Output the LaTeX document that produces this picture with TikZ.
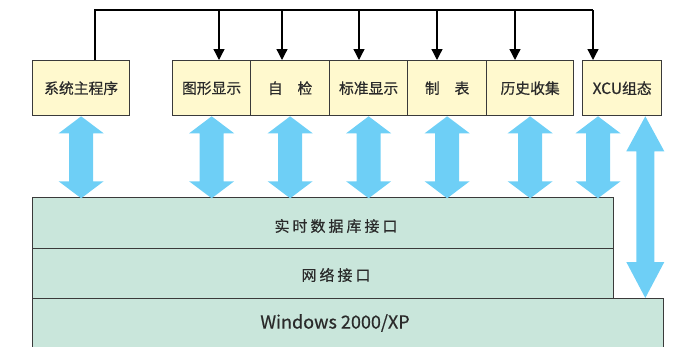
\documentclass[tikz,border=0pt]{standalone}
\usepackage{fontspec}
\setmainfont{Noto Sans CJK SC}[FakeBold=0.5]
\usetikzlibrary{arrows.meta,calc}
\definecolor{boxyellow}{HTML}{FFF9CE}
\definecolor{layergreen}{HTML}{C9E6DB}
\definecolor{arrowblue}{HTML}{6ECFF6}
\definecolor{edgegray}{HTML}{3A3A3A}
\definecolor{textgray}{HTML}{2A2A2A}
\begin{document}
\begin{tikzpicture}[x=1pt,y=-1pt,
  modbox/.style={draw=edgegray, line width=1.3pt, fill=boxyellow, minimum height=55pt,
    inner sep=0pt, text=textgray, font=\fontsize{14.8}{15}\selectfont, anchor=north west},
  layerbox/.style={draw=edgegray, line width=1.3pt, fill=layergreen, inner sep=0pt, anchor=north west},
  layertext/.style={text=textgray, inner sep=0pt, font=\fontsize{15}{16}\selectfont\addfontfeature{LetterSpace=20}},
  busline/.style={draw=black, line width=1.3pt},
  busarrow/.style={busline, -{Triangle[width=11pt,length=11pt]}},
  dblarrow/.pic={\fill[arrowblue] (0,0) -- (22.5,17) -- (12,17) -- (12,65) -- (22.5,65) -- (0,82)
      -- (-22.5,65) -- (-12,65) -- (-12,17) -- (-22.5,17) -- cycle;}
]
\useasboundingbox (0,0) rectangle (674,346);
\clip (0,0) rectangle (674,346);

% layers
\node[layerbox, minimum width=631pt, minimum height=62pt] (win) at (32,298) {};
\node[layerbox, minimum width=581pt, minimum height=51pt] (rtdb) at (32,197) {};
\node[layerbox, minimum width=581pt, minimum height=50pt] (net) at (32,248) {};
\node[layertext] (trtdb) at (336,226) {实时数据库接口};
\node[layertext] (tnet) at (336,275) {网络接口};
\node[text=textgray, inner sep=0pt, font=\fontsize{18}{19}\selectfont] (twin) at (335,323) {Windows 2000/XP};

% modules
\node[modbox, minimum width=97pt] (sys) at (32,60) {系统主程序};
\node[modbox, minimum width=78pt] (gfx) at (172,60) {图形显示};
\node[modbox, minimum width=79pt] (chk) at (250,60) {自\hspace{1em}检};
\node[modbox, minimum width=78pt] (std) at (329,60) {标准显示};
\node[modbox, minimum width=79pt] (tab) at (407,60) {制\hspace{1em}表};
\node[modbox, minimum width=87pt] (his) at (486,60) {历史收集};
\node[modbox, minimum width=79pt] (xcu) at (582,60) {{\fontsize{15.5}{16}\selectfont XCU}组态};

% top bus
\coordinate (t0) at (95,10);
\coordinate (t1) at (219,10);
\coordinate (t2) at (282,10);
\coordinate (t3) at (359,10);
\coordinate (t4) at (437,10);
\coordinate (t5) at (515,10);
\coordinate (t6) at (593,10);
\draw[busline] (t0 |- sys.north) -- (t0) -- (t6);
\draw[busarrow] (t1) -- (t1 |- gfx.north);
\draw[busarrow] (t2) -- (t2 |- chk.north);
\draw[busarrow] (t3) -- (t3 |- std.north);
\draw[busarrow] (t4) -- (t4 |- tab.north);
\draw[busarrow] (t5) -- (t5 |- his.north);
\draw[busarrow] (t6) -- (t6 |- xcu.north);

% blue double arrows
\pic at (sys.south) {dblarrow};
\pic at (gfx.south) {dblarrow};
\pic at (chk.south) {dblarrow};
\pic at (std.south) {dblarrow};
\pic at (tab.south) {dblarrow};
\pic at (his.south) {dblarrow};
\pic at ($(xcu.south west)+(16,0)$) {dblarrow};

% long arrow from XCU to Windows
\coordinate (ra) at ($(xcu.south east)+(-17,0)$);
\coordinate (rb) at (ra |- win.north);
\fill[arrowblue] (ra) -- ++(19,35) -- ++(-10,0) |- ($(rb)+(19,-36)$) -- (rb)
  -- ++(-19,-36) -- ++(10,0) |- ($(ra)+(-19,35)$) -- cycle;
\end{tikzpicture}
\end{document}
